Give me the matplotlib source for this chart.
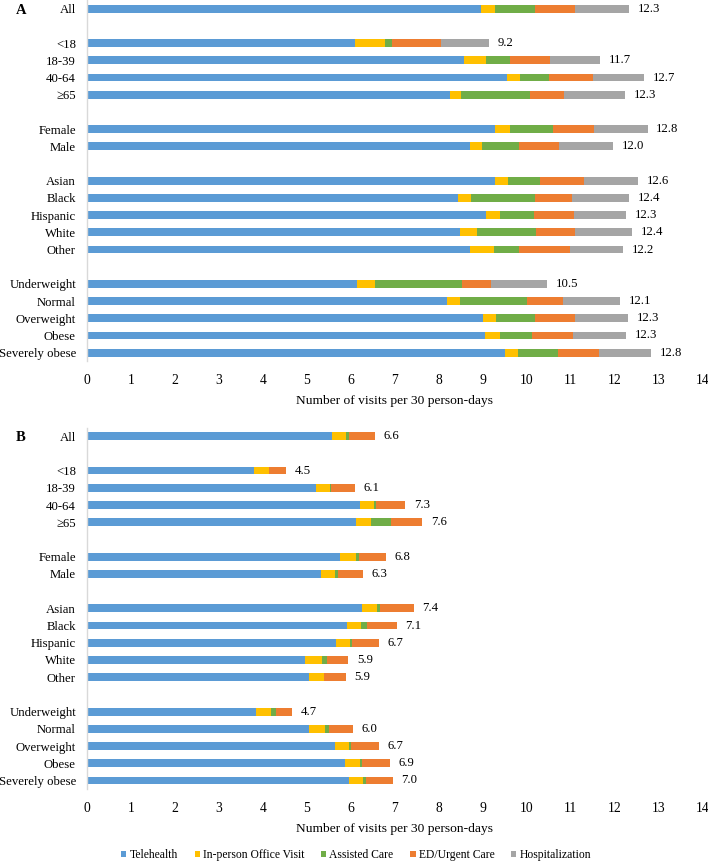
import numpy as np
import matplotlib.pyplot as plt

plt.rcParams["font.family"] = ["Liberation Serif", "DejaVu Serif"]

# categories, grouped (a blank row separates groups)
GROUPS = [
    ["All"],
    ["<18", "18-39", "40-64", "\u226565"],
    ["Female", "Male"],
    ["Asian", "Black", "Hispanic", "White", "Other"],
    ["Underweight", "Normal", "Overweight", "Obese", "Severely obese"],
]
SERIES = ["Telehealth", "In-person Office Visit", "Assisted Care",
          "ED/Urgent Care", "Hospitalization"]
COLOURS = ["#5B9BD5", "#FFC000", "#70AD47", "#ED7D31", "#A5A5A5"]

# panel A, one list per series (order follows categories)
a_tele     = [8.96, 6.09, 8.58, 9.56, 8.26, 9.27, 8.70, 9.27, 8.44, 9.07, 8.49, 8.70, 6.13, 8.19, 9.00, 9.05, 9.51]
a_inperson = [0.31, 0.69, 0.50, 0.29, 0.24, 0.34, 0.29, 0.30, 0.29, 0.32, 0.37, 0.55, 0.42, 0.30, 0.30, 0.34, 0.29]
a_assisted = [0.92, 0.16, 0.53, 0.65, 1.58, 1.00, 0.84, 0.73, 1.47, 0.78, 1.36, 0.58, 1.99, 1.51, 0.90, 0.73, 0.91]
a_ed       = [0.90, 1.11, 0.92, 1.00, 0.78, 0.92, 0.90, 1.01, 0.83, 0.90, 0.88, 1.15, 0.64, 0.82, 0.89, 0.94, 0.94]
a_hosp     = [1.23, 1.09, 1.14, 1.16, 1.37, 1.22, 1.24, 1.22, 1.30, 1.19, 1.30, 1.21, 1.29, 1.30, 1.21, 1.21, 1.17]
a_totals   = [12.3, 9.2, 11.7, 12.7, 12.3, 12.8, 12.0, 12.6, 12.4, 12.3, 12.4, 12.2, 10.5, 12.1, 12.3, 12.3, 12.8]

# panel B
b_tele     = [5.57, 3.80, 5.20, 6.20, 6.12, 5.75, 5.33, 6.26, 5.92, 5.67, 4.95, 5.04, 3.84, 5.05, 5.64, 5.86, 5.95]
b_inperson = [0.32, 0.33, 0.33, 0.32, 0.34, 0.36, 0.31, 0.33, 0.32, 0.31, 0.39, 0.35, 0.35, 0.36, 0.32, 0.34, 0.33]
b_assisted = [0.06, 0.01, 0.01, 0.05, 0.46, 0.07, 0.06, 0.08, 0.13, 0.04, 0.11, 0.01, 0.10, 0.10, 0.05, 0.06, 0.07]
b_ed       = [0.59, 0.39, 0.55, 0.67, 0.71, 0.61, 0.58, 0.76, 0.67, 0.62, 0.49, 0.48, 0.38, 0.53, 0.63, 0.63, 0.60]
b_hosp     = [0.00] * 17
b_totals   = [6.6, 4.5, 6.1, 7.3, 7.6, 6.8, 6.3, 7.4, 7.1, 6.7, 5.9, 5.9, 4.7, 6.0, 6.7, 6.9, 7.0]

FS = 9.2


def positions():
    pos, labels, k = [], [], 0
    for g in GROUPS:
        for c in g:
            pos.append(k)
            labels.append(c)
            k += 1
        k += 1
    return np.array(pos), labels, k - 1


def draw_panel(ax, series, totals):
    ypos, labels, nrows = positions()
    left = np.zeros(len(ypos))
    for vals, name, col in zip(series, SERIES, COLOURS):
        vals = np.array(vals)
        ax.barh(ypos, vals, left=left, height=0.45, color=col,
                label=name, linewidth=0)
        left += vals
    for y, x, t in zip(ypos, left, totals):
        ax.text(x + 0.2, y, f"{t:.1f}", va="center", ha="left", fontsize=FS)
    ax.set_ylim(nrows - 0.5, -0.5)
    ax.set_yticks(ypos)
    ax.set_yticklabels(labels, fontsize=FS)
    ax.set_xlim(0, 14)
    ax.set_xticks(range(15))
    ax.tick_params(axis="both", length=0)
    ax.tick_params(axis="y", pad=8, labelsize=FS)
    ax.tick_params(axis="x", pad=9, labelsize=9.8)
    for s in ["top", "right", "bottom"]:
        ax.spines[s].set_visible(False)
    ax.spines["left"].set_color("#D9D9D9")
    ax.spines["left"].set_linewidth(1.0)
    ax.set_xlabel("Number of visits per 30 person-days", fontsize=9.7, labelpad=6)


fig = plt.figure(figsize=(7.08, 8.61), dpi=100)
axA = fig.add_axes([0.123, 0.5804, 0.8692, 0.4194])
axB = fig.add_axes([0.123, 0.0835, 0.8692, 0.4199])

draw_panel(axA, [a_tele, a_inperson, a_assisted, a_ed, a_hosp], a_totals)
draw_panel(axB, [b_tele, b_inperson, b_assisted, b_ed, b_hosp], b_totals)

fig.text(0.0297, 1 - 10 / 861, "A", fontsize=10.5, fontweight="bold",
         ha="center", va="center")
fig.text(0.0297, 1 - 437 / 861, "B", fontsize=10.5, fontweight="bold",
         ha="center", va="center")

handles, labels = axA.get_legend_handles_labels()
fig.legend(handles, labels, loc="center", bbox_to_anchor=(0.503, 1 - 855 / 861),
           ncol=5, frameon=False, fontsize=8.4, handlelength=0.45,
           handleheight=0.45, handletextpad=0.25, columnspacing=1.45)

fig.savefig("out.png", dpi=100)
